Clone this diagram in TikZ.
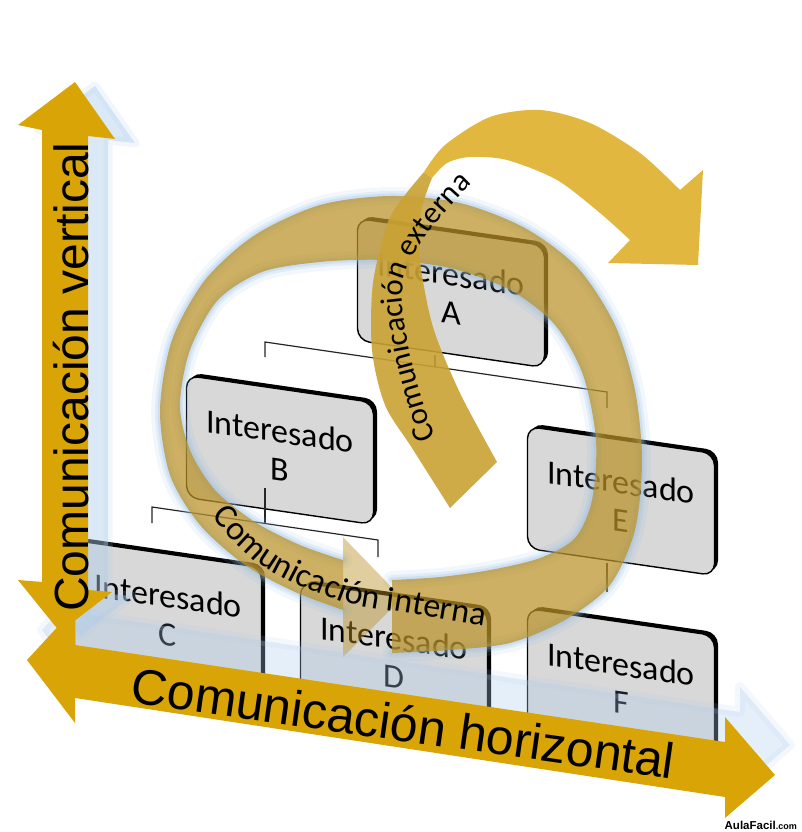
\documentclass[tikz,border=0pt]{standalone}
\usepackage{fontspec}
\setmainfont{Liberation Sans}
\newfontfamily\carl{Carlito}
\newfontfamily\arialf{Liberation Sans}
\usetikzlibrary{decorations.text,shadows}
\definecolor{axisgold}{RGB}{217,164,6}
\definecolor{extgold}{RGB}{226,183,64}
\definecolor{extdark}{RGB}{202,162,52}
\definecolor{ringgold}{RGB}{186,146,40}
\definecolor{glowblue}{RGB}{150,190,230}
\definecolor{boxfill}{RGB}{216,216,216}
\definecolor{shadowblue}{RGB}{175,205,236}
\begin{document}
\begin{tikzpicture}[x=1pt,y=-1pt,
  ibox/.style={draw=black, line width=1.4pt, fill=boxfill, rounded corners=12pt,
    minimum width=187pt, minimum height=122pt, align=center, inner sep=0pt,
    font=\carl\fontsize{34}{38}\selectfont,
    general shadow={fill=black, shadow xshift=3.5pt, shadow yshift=3pt}},
  conn/.style={draw=black!85, line width=1.2pt},
  ringfill/.style={fill=ringgold, opacity=0.72},
  glowline/.style={draw=glowblue, line cap=round, line join=round}]
\useasboundingbox (0,0) rectangle (801,832);

% ---------- boxes ----------
\begin{scope}[shift={(451,293)}, yslant=-0.145, transform shape]
  \node[ibox] (A) at (0,0) {Interesado\\A};
\end{scope}
\begin{scope}[shift={(280,450)}, yslant=-0.145, transform shape]
  \node[ibox] (B) at (0,0) {Interesado\\B};
\end{scope}
\begin{scope}[shift={(621,501)}, yslant=-0.145, transform shape]
  \node[ibox] (E) at (0,0) {Interesado\\E};
\end{scope}
\begin{scope}[shift={(168,615)}, yslant=-0.145, transform shape]
  \node[ibox] (C) at (0,0) {Interesado\\C};
\end{scope}
\begin{scope}[shift={(394,657)}, yslant=-0.145, transform shape]
  \node[ibox] (D) at (0,0) {Interesado\\D};
\end{scope}
\begin{scope}[shift={(621,683)}, yslant=-0.145, transform shape]
  \node[ibox] (F) at (0,0) {Interesado\\F};
\end{scope}

% ---------- connectors ----------
\coordinate (jA) at (435,367);
\coordinate (lB) at (265,357);
\coordinate (bL) at (265,342);
\coordinate (bR) at (607,392);
\coordinate (lE) at (607,408);
\coordinate (sB) at (265,488);
\coordinate (jB) at (265,523);
\coordinate (lC) at (152,523);
\coordinate (cL) at (152,507);
\coordinate (cR) at (378,540);
\coordinate (lD) at (378,557);
\coordinate (jE) at (607,592);
\draw[conn] (A.south -| jA) -- (jA);
\draw[conn] (lB) -- (bL) -- (bR) -- (lE);
\draw[conn] (sB) -- (jB);
\draw[conn] (lC) -- (cL) -- (cR) -- (lD);
\draw[conn] (E.south -| jE) -- (jE);

% ---------- ring (comunicacion interna) ----------
\foreach \w/\o in {18/0.12, 10/0.2, 5/0.25}{
\draw[glowline, line width=\w pt, opacity=\o] plot[smooth] coordinates {(392,653) (450,650) (510,643) (565,620) (610,585) (635,530) (642,460) (635,390) (615,325) (578,268) (525,228) (460,203) (390,196) (320,205) (255,235) (205,280) (172,340) (160,410) (170,475) (200,525) (245,565) (295,592) (343,610)};
\draw[glowline, line width=\w pt, opacity=\o] plot[smooth] coordinates {(343,560) (300,545) (255,522) (215,490) (190,450) (180,405) (190,350) (218,300) (262,272) (320,262) (385,260) (450,268) (510,290) (555,325) (583,375) (596,440) (592,500) (575,538) (540,558) (490,570) (440,577) (392,580)};
}
\fill[ringfill] plot[smooth] coordinates {(392,653) (450,650) (510,643) (565,620) (610,585) (635,530) (642,460) (635,390) (615,325) (578,268) (525,228) (460,203) (390,196) (320,205) (255,235) (205,280) (172,340) (160,410) (170,475) (200,525) (245,565) (295,592) (343,610)}
  -- plot[smooth] coordinates {(343,560) (300,545) (255,522) (215,490) (190,450) (180,405) (190,350) (218,300) (262,272) (320,262) (385,260) (450,268) (510,290) (555,325) (583,375) (596,440) (592,500) (575,538) (540,558) (490,570) (440,577) (392,580)} -- cycle;
\fill[ringgold, opacity=0.45] (343,537) -- (402,598) -- (343,657) -- cycle;

% ---------- externa arrow ----------
\fill[extdark, opacity=0.9] plot[smooth] coordinates {(450,508) (412,448) (385,405) (372,350) (373,283) (388,222) (405,195) (424,172)}
  -- plot[smooth] coordinates {(432,178) (421,212) (420,260) (433,327) (460,393) (497,462)} -- cycle;
\fill[extgold] plot[smooth] coordinates {(424,172) (445,145) (490,117) (540,110) (590,123) (640,153) (680,190)}
  -- (703,170) -- (698,265) -- (608,263) -- (630,240)
  -- plot[smooth] coordinates {(630,240) (600,213) (557,180) (507,160) (470,157) (447,163) (432,178)} -- cycle;

% ---------- axis shadows ----------
\begin{scope}[shift={(20,4)}]
\fill[shadowblue, opacity=0.45] (75,82) -- (115,139) -- (88,136) -- (88,590) -- (112,592) -- (60,632) -- (18,580) -- (42,582) -- (42,130) -- (18,125) -- cycle;
\draw[shadowblue, line width=9pt, opacity=0.18, line join=round] (75,82) -- (115,139) -- (88,136) -- (88,590) -- (112,592) -- (60,632) -- (18,580) -- (42,582) -- (42,130) -- (18,125) -- cycle;
\end{scope}
\begin{scope}[shift={(15,-30)}]
\fill[shadowblue, opacity=0.32] (27,660) -- (75,608) -- (75,645) -- (725,742) -- (725,717) -- (775,775) -- (725,818) -- (725,797) -- (75,698) -- (75,723) -- cycle;
\draw[shadowblue, line width=10pt, opacity=0.14, line join=round] (27,660) -- (75,608) -- (75,645) -- (725,742) -- (725,717) -- (775,775) -- (725,818) -- (725,797) -- (75,698) -- (75,723) -- cycle;
\end{scope}

% ---------- axis arrows ----------
\fill[axisgold] (75,82) -- (115,139) -- (88,136) -- (88,590) -- (112,592) -- (60,632) -- (18,580) -- (42,582) -- (42,130) -- (18,125) -- cycle;
\fill[axisgold] (27,660) -- (75,608) -- (75,645) -- (725,742) -- (725,717) -- (775,775) -- (725,818) -- (725,797) -- (75,698) -- (75,723) -- cycle;

\node[rotate=90, anchor=base, inner sep=0pt, font=\arialf\fontsize{48}{48}\selectfont] (tv) at (88,377) {Comunicación vertical};
\node[rotate=-8, anchor=base, inner sep=0pt, font=\arialf\fontsize{50}{50}\selectfont] (th) at (401,741) {Comunicación horizontal};

% ---------- curved labels ----------
\path[decorate, decoration={text along path, text align=center,
  text={|\carl\fontsize{31}{31}\selectfont|Comunicación externa}}]
  (442,456) -- (428,418) -- (418,385) -- (410,355) -- (405,328) -- (402,300) -- (403,280) -- (409,263) -- (418,248) -- (430,230) -- (445,212) -- (462,193) -- (486,170);
\path[decorate, decoration={text along path, text align=center,
  text={|\carl\fontsize{34}{34}\selectfont|Comunicación interna}}]
  (200,503) -- (215,521) -- (232,540) -- (251,558) -- (272,572) -- (295,584) -- (316,592) -- (340,601) -- (364,607) -- (382,610) -- (400,612) -- (430,617) -- (460,622) -- (502,629);

% ---------- watermark ----------
\node[anchor=base east, inner sep=0pt] (wm) at (797,829) {\arialf\bfseries\fontsize{11.5}{12}\selectfont AulaFacil\fontsize{9}{10}\selectfont.com};
\end{tikzpicture}
\end{document}
